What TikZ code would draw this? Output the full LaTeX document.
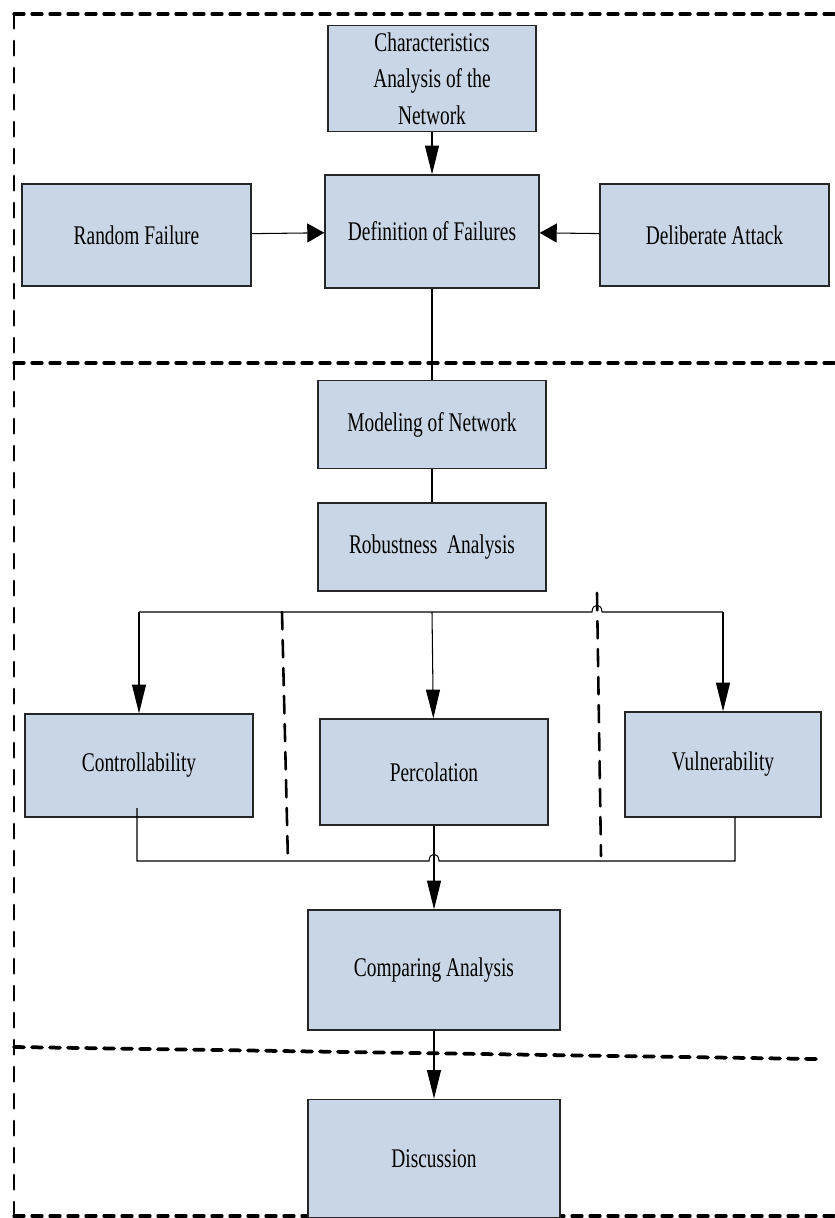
\documentclass[tikz,border=0pt]{standalone}
\usepackage{fontspec}
\setmainfont{Liberation Serif}[FakeStretch=0.72]
\usepackage{tikz}
\usetikzlibrary{
	positioning,
	arrows.meta
}

\definecolor{boxfill}{RGB}{200,214,229}

\begin{document}
\begin{tikzpicture}[
		x=0.03cm, y=-0.03cm,
		font=\fontsize{23}{31}\selectfont,
		box/.style={draw=black!85,fill=boxfill,line width=1.2pt,align=center,inner sep=0pt},
		flow/.style={line width=0.9pt},
		down/.style={flow,-{Triangle[length=0.86cm,width=0.42cm]}},
		side/.style={flow,-{Triangle[length=0.51cm,width=0.57cm]}},
		frame/.style={line width=2.8pt,line cap=round,dash pattern=on 0.3cm off 0.24cm},
		wall/.style={line width=2.3pt,line cap=round,dash pattern=on 0.43cm off 0.38cm},
		split/.style={line width=2.2pt,line cap=round,dash pattern=on 0.52cm off 0.32cm}
	]
	\useasboundingbox (0,0) rectangle (835,1218);

	% dashed frame
	\draw[frame] (14,14)   -- (835,14);
	\draw[frame] (14,363)  -- (835,363);
	\draw[frame,line width=3.2pt] (14,1047) -- (816,1059);
	\draw[frame] (14,1216) -- (835,1216);
	\draw[wall]  (14,14)   -- (14,1216);
	\draw[split] (282,612) -- (288,863);
	\draw[split] (597,593) -- (601,856);

	% boxes
	\node[box,minimum width=6.42cm,minimum height=3.39cm] (def) at (432,231.5) {Definition of Failures};
	\node[box,minimum width=6.24cm,minimum height=3.18cm,above=1.26cm of def] (chr) {Characteristics\\Analysis of the\\Network};
	\node[box,minimum width=6.87cm,minimum height=3.06cm] (rnd) at (136.5,235) {Random Failure};
	\node[box,minimum width=6.87cm,minimum height=3.06cm] (dlb) at (714.5,235) {Deliberate Attack};
	\node[box,minimum width=6.84cm,minimum height=2.64cm,below=2.73cm of def] (mod) {Modeling of Network};
	\node[box,minimum width=6.84cm,minimum height=2.64cm,below=0.99cm of mod] (rob) {Robustness\ \ Analysis};
	\node[box,minimum width=6.84cm,minimum height=3.09cm] (ctl) at (139,765.5) {Controllability};
	\node[box,minimum width=6.84cm,minimum height=3.18cm] (prc) at (434,772) {Percolation};
	\node[box,minimum width=5.88cm,minimum height=3.15cm] (vul) at (723,764.5) {Vulnerability};
	\node[box,minimum width=7.56cm,minimum height=3.6cm] (cmp) at (434,970) {Comparing Analysis};
	\node[box,minimum width=7.56cm,minimum height=3.54cm,below=2.04cm of cmp] (dis) {Discussion};

	% branch points
	\coordinate (tl) at (139,612);
	\coordinate (tm) at (432,612);
	\coordinate (tr) at (723,612);
	\coordinate (bl) at (137,808);
	\coordinate (br) at (735,817);

	% connectors
	\draw[down] (chr) -- (def);
	\draw[side] (rnd) -- (def);
	\draw[side] (dlb) -- (def);
	\draw[flow] (def) -- (mod);
	\draw[flow] (mod) -- (rob);

	\draw[flow] (tl) -- (592,612) .. controls (592,603) and (602,603) .. (602,612) -- (tr);
	\draw[down] (tl) -- (ctl);
	\draw[down] (tm) -- (prc);
	\draw[down] (tr) -- (vul);

	\draw[flow] (bl) |- (429,861) .. controls (429,852) and (439,852) .. (439,861) -| (br);
	\draw[down] (prc) -- (cmp);
	\draw[down] (cmp) -- (dis);
\end{tikzpicture}
\end{document}
